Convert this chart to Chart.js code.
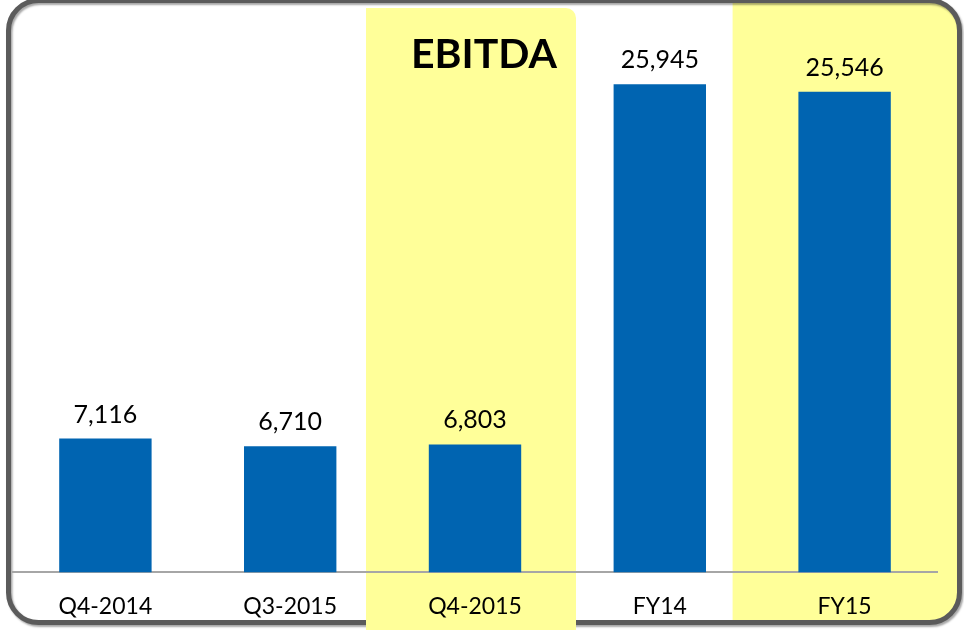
<!DOCTYPE html>
<html>
<head>
<meta charset="utf-8">
<script src="https://cdn.jsdelivr.net/npm/chart.js@4.4.1/dist/chart.umd.min.js"></script>
<style>
  html, body { margin: 0; padding: 0; background: #ffffff; }
  #wrap { width: 964px; height: 630px; position: relative; }
</style>
</head>
<body>
<div id="wrap"><canvas id="c" width="964" height="630"></canvas></div>
<script>
const categories = ["Q4-2014", "Q3-2015", "Q4-2015", "FY14", "FY15"];
const ebitdaValues = [7116, 6710, 6803, 25945, 25546];
const valueLabels = ["7,116", "6,710", "6,803", "25,945", "25,546"];
const chartTitle = "EBITDA";
const highlighted = [2, 4];

const BAR = "#0064B1";
const YELLOW = "#FFFF99";
const FRAME = "#5B5B5B";

function roundRectPath(ctx, x, y, w, h, r) {
  ctx.beginPath();
  ctx.moveTo(x + r, y);
  ctx.lineTo(x + w - r, y);
  ctx.arcTo(x + w, y, x + w, y + r, r);
  ctx.lineTo(x + w, y + h - r);
  ctx.arcTo(x + w, y + h, x + w - r, y + h, r);
  ctx.lineTo(x + r, y + h);
  ctx.arcTo(x, y + h, x, y + h - r, r);
  ctx.lineTo(x, y + r);
  ctx.arcTo(x, y, x + r, y, r);
  ctx.closePath();
}

const decorPlugin = {
  id: "decor",
  beforeDraw(chart) {
    const ctx = chart.ctx;
    const xs = chart.scales.x;
    ctx.save();
    const fx = 8.5, fy = 0.5, fw = 951, fh = 622, fr = 30;
    ctx.save();
    roundRectPath(ctx, fx, fy, fw, fh, fr);
    ctx.clip();
    const c5 = xs.getPixelForValue(highlighted[1]);
    ctx.fillStyle = YELLOW;
    ctx.fillRect(c5 - 112, 0, 300, 630);
    ctx.restore();
    ctx.save();
    ctx.shadowColor = "rgba(0,0,0,0.35)";
    ctx.shadowOffsetX = 1.5;
    ctx.shadowOffsetY = 2;
    ctx.shadowBlur = 2;
    roundRectPath(ctx, fx, fy, fw, fh, fr);
    ctx.lineWidth = 5;
    ctx.strokeStyle = FRAME;
    ctx.stroke();
    ctx.restore();
    const c3 = xs.getPixelForValue(highlighted[0]);
    const yl = c3 - 109, yr = c3 + 101, yt = 8, r = 10;
    ctx.beginPath();
    ctx.moveTo(yl, yt);
    ctx.lineTo(yr - r, yt);
    ctx.arcTo(yr, yt, yr, yt + r, r);
    ctx.lineTo(yr, 630);
    ctx.lineTo(yl, 630);
    ctx.closePath();
    ctx.fillStyle = YELLOW;
    ctx.fill();
    ctx.fillStyle = "#000000";
    ctx.font = "bold 41px Lato";
    ctx.textAlign = "right";
    ctx.textBaseline = "alphabetic";
    ctx.fillText(chartTitle, yr - 19, 68);
    ctx.restore();
  },
  afterDatasetsDraw(chart) {
    const ctx = chart.ctx;
    const meta = chart.getDatasetMeta(0);
    ctx.save();
    ctx.fillStyle = "#000000";
    ctx.font = "25px Lato";
    ctx.textAlign = "center";
    ctx.textBaseline = "alphabetic";
    meta.data.forEach((bar, i) => {
      ctx.fillText(valueLabels[i], bar.x, bar.y - 16);
    });
    ctx.restore();
  }
};

new Chart(document.getElementById("c"), {
  type: "bar",
  data: {
    labels: categories,
    datasets: [{
      data: ebitdaValues,
      backgroundColor: BAR,
      borderWidth: 0,
      barPercentage: 0.5,
      categoryPercentage: 1.0
    }]
  },
  options: {
    responsive: false,
    animation: false,
    devicePixelRatio: 1,
    layout: { padding: { left: 13, right: 27, top: 8, bottom: -10 } },
    plugins: {
      legend: { display: false },
      tooltip: { enabled: false },
      title: { display: false }
    },
    scales: {
      x: {
        grid: { display: false, drawTicks: false },
        border: { display: true, color: "#A6A6A6", width: 2 },
        ticks: {
          color: "#000000",
          font: { family: "Lato", size: 23 },
          padding: 20,
          maxRotation: 0
        }
      },
      y: {
        display: false,
        min: 0,
        max: 30000
      }
    }
  },
  plugins: [decorPlugin]
});
</script>
</body>
</html>
